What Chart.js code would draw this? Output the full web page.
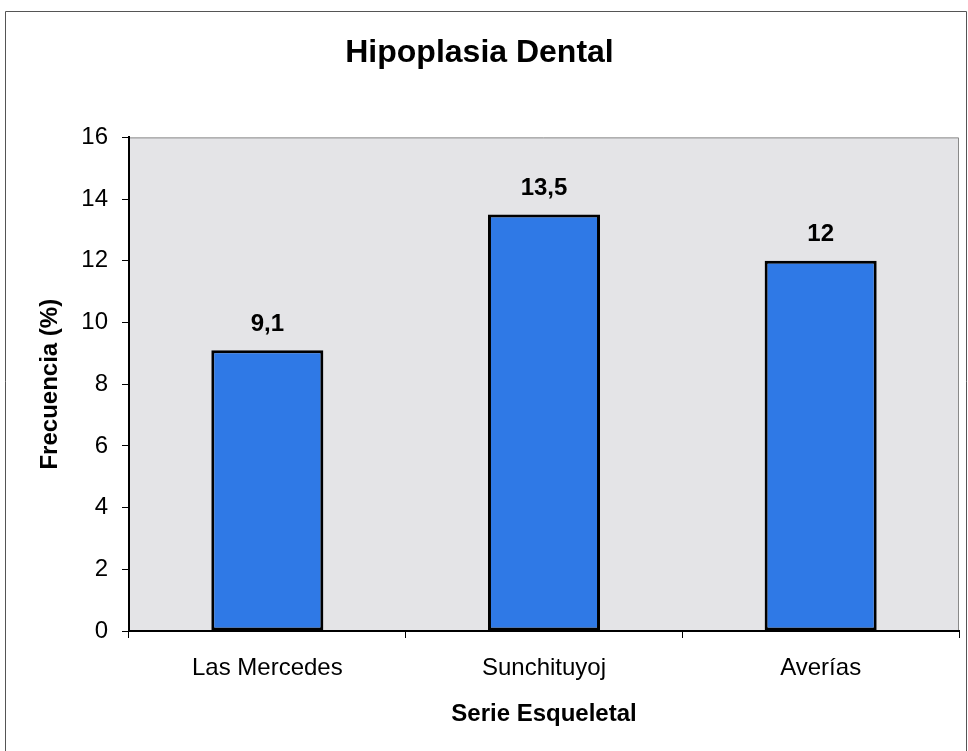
<!DOCTYPE html>
<html>
<head>
  <title>Hipoplasia Dental</title>
  <script src="https://cdn.jsdelivr.net/npm/chart.js"></script>
  <style>
    html, body {
      margin: 0;
      padding: 0;
      background: #ffffff;
    }
    .chart-box {
      width: 968px;
      height: 751px;
    }
  </style>
</head>
<body>
  <div class="chart-box">
    <canvas id="hipoplasiaChart"></canvas>
  </div>

  <script>
    const series = ['Las Mercedes', 'Sunchituyoj', 'Averías'];
    const frecuencia = [9.1, 13.5, 12];
    const valueLabels = ['9,1', '13,5', '12'];
    const yTicks = [0, 2, 4, 6, 8, 10, 12, 14, 16];

    const fontFamily = "'Liberation Sans', Arial, sans-serif";

    // gray plot area plus the outer frame of the picture
    const frame = {
      id: 'frame',
      beforeDraw(chart) {
        const { ctx, chartArea: a } = chart;
        ctx.save();
        ctx.fillStyle = '#e4e4e7';
        ctx.fillRect(a.left, a.top, a.right - a.left, a.bottom - a.top);
        ctx.strokeStyle = '#8a8a8a';
        ctx.lineWidth = 1;
        ctx.beginPath();
        ctx.moveTo(a.left, a.top + 0.5);
        ctx.lineTo(a.right - 0.5, a.top + 0.5);
        ctx.lineTo(a.right - 0.5, a.bottom);
        ctx.stroke();
        ctx.strokeStyle = '#555555';
        ctx.beginPath();
        ctx.moveTo(5.5, 751);
        ctx.lineTo(5.5, 11.5);
        ctx.lineTo(966.5, 11.5);
        ctx.lineTo(966.5, 751);
        ctx.stroke();
        ctx.restore();
      }
    };

    // value labels above the bars
    const barValues = {
      id: 'barValues',
      afterDatasetsDraw(chart) {
        const { ctx } = chart;
        const meta = chart.getDatasetMeta(0);
        ctx.save();
        ctx.fillStyle = '#000000';
        ctx.font = 'bold 24px ' + fontFamily;
        ctx.textAlign = 'center';
        ctx.textBaseline = 'middle';
        meta.data.forEach((bar, i) => {
          ctx.fillText(valueLabels[i], bar.x, bar.y - 26);
        });
        ctx.restore();
      }
    };

    const ctx = document.getElementById('hipoplasiaChart').getContext('2d');
    new Chart(ctx, {
      type: 'bar',
      data: {
        labels: series,
        datasets: [{
          data: frecuencia,
          backgroundColor: '#2f79e6',
          borderColor: '#000000',
          borderWidth: 3,
          borderSkipped: false,
          categoryPercentage: 1,
          barPercentage: 0.405
        }]
      },
      options: {
        responsive: true,
        maintainAspectRatio: false,
        animation: false,
        layout: {
          padding: { left: 0, right: 9, top: 0, bottom: 0 }
        },
        plugins: {
          legend: { display: false },
          tooltip: { enabled: false },
          title: {
            display: true,
            text: 'Hipoplasia Dental',
            color: '#000000',
            font: { family: fontFamily, size: 32, weight: 'bold' },
            padding: { top: 34, bottom: 65 }
          }
        },
        scales: {
          x: {
            afterFit(scale) { scale.height = 120; },
            border: { color: '#000000', width: 2 },
            grid: {
              display: true,
              offset: true,
              drawOnChartArea: false,
              tickLength: 7,
              color: '#000000'
            },
            ticks: {
              color: '#000000',
              padding: 16,
              font: { family: fontFamily, size: 24 }
            },
            title: {
              display: true,
              text: 'Serie Esqueletal',
              color: '#000000',
              font: { family: fontFamily, size: 24, weight: 'bold' },
              padding: { top: 0, bottom: 22 }
            }
          },
          y: {
            min: 0,
            max: 16,
            afterFit(scale) { scale.width = 129; },
            afterBuildTicks(scale) {
              scale.ticks = yTicks.map(v => ({ value: v }));
            },
            border: { color: '#000000', width: 2 },
            grid: {
              display: true,
              drawOnChartArea: false,
              tickLength: 7,
              color: '#000000'
            },
            ticks: {
              color: '#000000',
              padding: 14,
              font: { family: fontFamily, size: 24 }
            },
            title: {
              display: true,
              text: 'Frecuencia (%)',
              color: '#000000',
              font: { family: fontFamily, size: 24, weight: 'bold' },
              padding: { top: 36, bottom: 0 }
            }
          }
        }
      },
      plugins: [frame, barValues]
    });
  </script>
</body>
</html>
